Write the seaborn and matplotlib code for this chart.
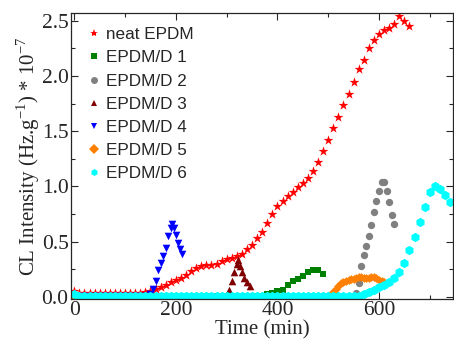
import matplotlib
matplotlib.use("Agg")
import matplotlib.pyplot as plt
import seaborn as sns
import pandas as pd
from matplotlib.ticker import MultipleLocator

# ---- data (time in min, CL intensity * 1e-7) ----
neat_t = list(range(0, 670, 10))
neat_v = [0.05, 0.03, 0.03, 0.03, 0.03, 0.03, 0.03, 0.03, 0.03, 0.03,
          0.03, 0.03, 0.03, 0.03, 0.04, 0.05, 0.07, 0.09, 0.11, 0.13,
          0.15, 0.17, 0.20, 0.23, 0.26, 0.28, 0.29, 0.29, 0.30, 0.32,
          0.34, 0.35, 0.37, 0.39, 0.43, 0.47, 0.53, 0.59, 0.67, 0.75,
          0.82, 0.87, 0.91, 0.95, 0.99, 1.03, 1.08, 1.14, 1.22, 1.32,
          1.42, 1.53, 1.63, 1.74, 1.84, 1.95, 2.06, 2.15, 2.25, 2.33,
          2.38, 2.42, 2.44, 2.47, 2.54, 2.50, 2.45]

d1_t = list(range(0, 380, 20)) + [380, 390, 400, 410, 420, 430, 440, 450, 460, 470, 480, 490]
d1_v = [0.01, 0.01, 0.01, 0.01, 0.01, 0.01, 0.01, 0.01, 0.01, 0.01,
        0.01, 0.01, 0.01, 0.01, 0.01, 0.01, 0.01, 0.01, 0.01,
        0.02, 0.03, 0.05, 0.06, 0.11, 0.14, 0.16, 0.19, 0.22, 0.24, 0.24, 0.21]

d2_t = list(range(0, 560, 20)) + [555, 560, 565, 570, 575, 580, 585, 590, 595, 600,
                                  605, 610, 615, 620, 625, 630]
d2_v = [0.01, 0.01, 0.01, 0.01, 0.01, 0.01, 0.01, 0.01, 0.01, 0.01,
        0.01, 0.01, 0.01, 0.01, 0.01, 0.01, 0.01, 0.01, 0.01, 0.01,
        0.01, 0.01, 0.01, 0.01, 0.01, 0.01, 0.01, 0.01,
        0.03, 0.12, 0.28, 0.38, 0.46, 0.55, 0.65, 0.77, 0.87, 0.96,
        1.04, 1.04, 0.96, 0.86, 0.74, 0.66]

d3_t = list(range(0, 300, 20)) + [300, 305, 310, 315, 320, 323, 326, 330, 335, 340, 345]
d3_v = [0.01, 0.01, 0.01, 0.01, 0.01, 0.01, 0.01, 0.01, 0.01, 0.01,
        0.01, 0.01, 0.01, 0.01, 0.01,
        0.02, 0.06, 0.14, 0.22, 0.30, 0.33, 0.28, 0.22, 0.17, 0.13, 0.10]

d4_t = list(range(0, 150, 20)) + [150, 155, 160, 165, 170, 175, 180, 185, 190, 193,
                                  196, 200, 204, 208, 212]
d4_v = [0.01, 0.01, 0.01, 0.01, 0.01, 0.01, 0.01, 0.01,
        0.02, 0.07, 0.14, 0.24, 0.31, 0.37, 0.44, 0.55, 0.62, 0.66,
        0.62, 0.56, 0.49, 0.43, 0.39]

d5_t = list(range(0, 500, 20)) + [505, 510, 515, 520, 525, 530, 535, 540, 545, 550,
                                  555, 560, 565, 570, 575, 580, 585, 590, 595, 600,
                                  605, 610]
d5_v = [0.01, 0.01, 0.01, 0.01, 0.01, 0.01, 0.01, 0.01, 0.01, 0.01,
        0.01, 0.01, 0.01, 0.01, 0.01, 0.01, 0.01, 0.01, 0.01, 0.01,
        0.01, 0.01, 0.01, 0.01, 0.01,
        0.02, 0.04, 0.07, 0.10, 0.12, 0.13, 0.14, 0.15, 0.16, 0.16,
        0.17, 0.18, 0.18, 0.17, 0.17, 0.17, 0.18, 0.18, 0.17, 0.15,
        0.14, 0.13]

d6_t = list(range(0, 750, 10))
d6_v = [0.02, 0.01, 0.01, 0.01, 0.01, 0.01, 0.01, 0.01, 0.01, 0.01,
        0.01, 0.01, 0.01, 0.01, 0.01, 0.01, 0.01, 0.01, 0.01, 0.01,
        0.01, 0.01, 0.01, 0.01, 0.01, 0.01, 0.01, 0.01, 0.01, 0.01,
        0.01, 0.01, 0.01, 0.01, 0.01, 0.01, 0.01, 0.01, 0.01, 0.01,
        0.01, 0.01, 0.01, 0.01, 0.01, 0.01, 0.01, 0.01, 0.01, 0.01,
        0.01, 0.01, 0.01, 0.01, 0.01, 0.01, 0.01,
        0.02, 0.04, 0.06, 0.09, 0.11, 0.13, 0.17, 0.22, 0.31, 0.42,
        0.54, 0.68, 0.81, 0.95, 1.00, 0.98, 0.92, 0.86]

labels = ["neat EPDM", "EPDM/D 1", "EPDM/D 2", "EPDM/D 3",
          "EPDM/D 4", "EPDM/D 5", "EPDM/D 6"]
series = [(neat_t, neat_v), (d1_t, d1_v), (d2_t, d2_v), (d3_t, d3_v),
          (d4_t, d4_v), (d5_t, d5_v), (d6_t, d6_v)]

colors = ["#ff0000", "#008000", "#808080", "#800000", "#0000ff", "#ff8000", "#00ffff"]
markers = ["*", "s", "o", "^", "v", "D", "h"]
sizes = [55, 22, 28, 30, 30, 20, 45]

rows = []
for lab, (t, v) in zip(labels, series):
    for ti, vi in zip(t, v):
        rows.append({"Time": ti, "CL": vi, "Sample": lab})
df = pd.DataFrame(rows)

sns.set_style("ticks")
plt.rcParams["font.family"] = ["Liberation Serif", "DejaVu Serif"]

fig = plt.figure(figsize=(4.54, 3.47), dpi=100)
ax = fig.add_axes([0.157, 0.137, 0.84, 0.825])

handles = []
for lab, col, mk, sz in zip(labels, colors, markers, sizes):
    sub = df[df["Sample"] == lab]
    sns.scatterplot(data=sub, x="Time", y="CL", color=col, marker=mk, s=sz,
                    linewidth=0, ax=ax, label=lab, legend=False)
    handles.append(plt.Line2D([], [], color=col, marker=mk, linestyle="none",
                              markersize=5 if mk != "*" else 6, markeredgewidth=0))

ax.set_xlim(-6, 745)
ax.set_ylim(-0.025, 2.57)
ax.xaxis.set_major_locator(MultipleLocator(200))
ax.xaxis.set_minor_locator(MultipleLocator(100))
ax.yaxis.set_major_locator(MultipleLocator(0.5))
ax.yaxis.set_minor_locator(MultipleLocator(0.25))
ax.set_yticklabels([f"{v:.1f}" for v in ax.get_yticks()])
ax.tick_params(which="both", direction="in", top=True, right=True,
               labelsize=15.5, width=0.8)
ax.tick_params(axis="x", pad=1)
ax.tick_params(axis="y", pad=2)
ax.tick_params(which="major", length=5)
ax.tick_params(which="minor", length=3)
for sp in ax.spines.values():
    sp.set_linewidth(0.9)

ax.set_xlabel("Time (min)", fontsize=15, labelpad=0)
ax.set_ylabel(r"CL Intensity (Hz.g$^{\mathregular{-1}}$) * 10$^{\mathregular{-7}}$",
              fontsize=15, labelpad=0)

leg = ax.legend(handles, labels, loc="upper left", frameon=False,
                prop={"family": "Liberation Sans", "size": 12.3},
                handlelength=0.8, handletextpad=0.3, labelspacing=0.48,
                borderaxespad=0.0, bbox_to_anchor=(0.025, 0.975))

fig.savefig("out.png", dpi=100)
